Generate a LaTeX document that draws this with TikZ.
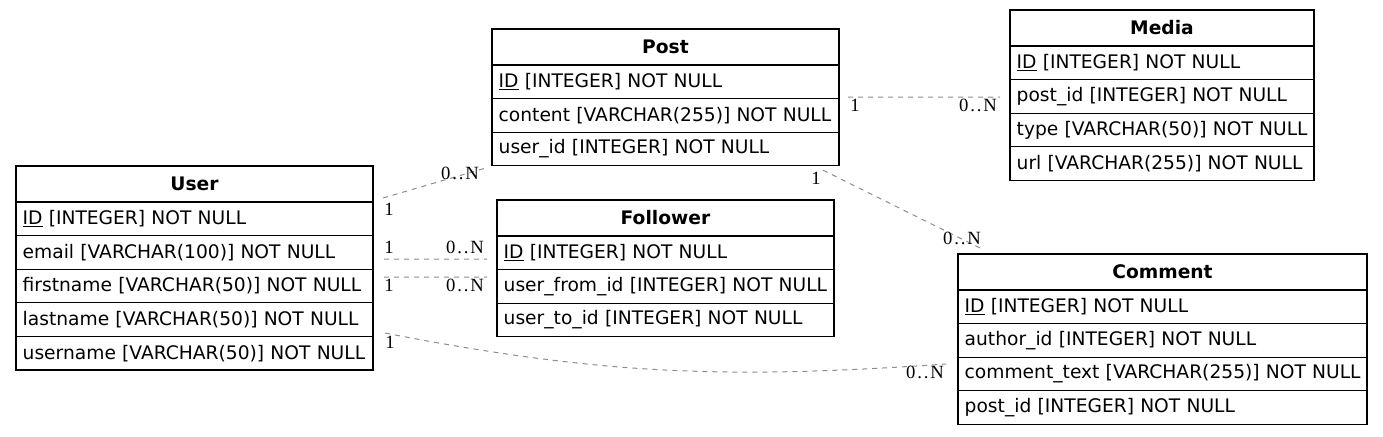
\documentclass[tikz,border=0pt]{standalone}
\usepackage{fontspec}
\setmainfont{DejaVu Sans}
\newfontfamily\etiqfont[LetterSpace=10]{Liberation Serif}
\usetikzlibrary{positioning}
\tikzset{
	tabla/.style={draw, line width=0.8pt, font=\fontsize{14}{15}\selectfont\bfseries,
		text width=#1, align=center, inner xsep=5pt, inner ysep=2pt, outer sep=0pt,
		minimum height=27pt, anchor=north west},
	campo/.style={draw, line width=0.8pt, font=\fontsize{14}{15}\selectfont,
		text width=#1, align=left, inner xsep=5pt, inner ysep=2pt, outer sep=0pt,
		minimum height=25.2pt,
		execute at begin node={\hbox\bgroup}, execute at end node={\egroup}},
	relacion/.style={draw=black!45, line width=0.75pt, dash pattern=on 3.75pt off 3.75pt},
	etiq/.style={font=\fontsize{14}{15}\selectfont\etiqfont, inner sep=0pt}
}

\begin{document}
\begin{tikzpicture}[x=0.75pt, y=-0.75pt]
	\useasboundingbox (0,0) rectangle (1383,436);
	
	% User
	\node[tabla=257.75pt] (user) at (16,166) {User};
	\node[campo=257.75pt, below=0pt of user] (user-id) {\underline{ID} [INTEGER] NOT NULL};
	\node[campo=257.75pt, below=0pt of user-id] (user-email) {email [VARCHAR(100)] NOT NULL};
	\node[campo=257.75pt, below=0pt of user-email] (user-firstname) {firstname [VARCHAR(50)] NOT NULL};
	\node[campo=257.75pt, below=0pt of user-firstname] (user-lastname) {lastname [VARCHAR(50)] NOT NULL};
	\node[campo=257.75pt, below=0pt of user-lastname] (user-username) {username [VARCHAR(50)] NOT NULL};
	
	% Post
	\node[tabla=250.25pt] (post) at (492,29) {Post};
	\node[campo=250.25pt, below=0pt of post] (post-id) {\underline{ID} [INTEGER] NOT NULL};
	\node[campo=250.25pt, below=0pt of post-id] (post-content) {content [VARCHAR(255)] NOT NULL};
	\node[campo=250.25pt, below=0pt of post-content] (post-user) {user\_id [INTEGER] NOT NULL};
	
	% Follower
	\node[tabla=242.75pt] (follower) at (497,200) {Follower};
	\node[campo=242.75pt, below=0pt of follower] (follower-id) {\underline{ID} [INTEGER] NOT NULL};
	\node[campo=242.75pt, below=0pt of follower-id] (follower-from) {user\_from\_id [INTEGER] NOT NULL};
	\node[campo=242.75pt, below=0pt of follower-from] (follower-to) {user\_to\_id [INTEGER] NOT NULL};
	
	% Media
	\node[tabla=218pt] (media) at (1010,10) {Media};
	\node[campo=218pt, below=0pt of media] (media-id) {\underline{ID} [INTEGER] NOT NULL};
	\node[campo=218pt, below=0pt of media-id] (media-post) {post\_id [INTEGER] NOT NULL};
	\node[campo=218pt, below=0pt of media-post] (media-type) {type [VARCHAR(50)] NOT NULL};
	\node[campo=218pt, below=0pt of media-type] (media-url) {url [VARCHAR(255)] NOT NULL};
	
	% Comment
	\node[tabla=296.75pt] (comment) at (958,254) {Comment};
	\node[campo=296.75pt, below=0pt of comment] (comment-id) {\underline{ID} [INTEGER] NOT NULL};
	\node[campo=296.75pt, below=0pt of comment-id] (comment-author) {author\_id [INTEGER] NOT NULL};
	\node[campo=296.75pt, below=0pt of comment-author] (comment-text) {comment\_text [VARCHAR(255)] NOT NULL};
	\node[campo=296.75pt, below=0pt of comment-text] (comment-post) {post\_id [INTEGER] NOT NULL};
	
	% relaciones
	\draw[relacion] ([shift={(10,-4)}]user.south east) -- ([shift={(-7,2.4)}]post-user.south west);
	\node[etiq] at ([shift={(16,7)}]user.south east) {1};
	\node[etiq] at ([shift={(-32,7.4)}]post-user.south west) {0..N};
	
	\draw[relacion] ([shift={(11,6.6)}]user-email.east) -- ([shift={(-10,6.2)}]follower-id.west);
	\node[etiq] at ([shift={(16,-5.4)}]user-email.east) {1};
	\node[etiq] at ([shift={(-32,-5.8)}]follower-id.west) {0..N};
	
	\draw[relacion] ([shift={(11,-9)}]user-firstname.east) -- ([shift={(-10,-9.4)}]follower-from.west);
	\node[etiq] at ([shift={(16,-1)}]user-firstname.east) {1};
	\node[etiq] at ([shift={(-32,-1.4)}]follower-from.west) {0..N};
	
	\draw[relacion] ([shift={(9,-1.6)}]post-id.south east) -- ([shift={(-10,0.6)}]media-post.west);
	\node[etiq] at ([shift={(16,6.4)}]post-id.south east) {1};
	\node[etiq] at ([shift={(-32,8.6)}]media-post.west) {0..N};
	
	\draw[relacion] ([shift={(-16,4.4)}]post-user.south east) -- ([shift={(24,-5)}]comment.north west);
	\node[etiq] at ([shift={(-23,12.4)}]post-user.south east) {1};
	\node[etiq] at ([shift={(4,-16)}]comment.north west) {0..N};
	
	\draw[relacion] ([shift={(12,-3.4)}]user-lastname.south east) to[out=-11, in=184] ([shift={(-12,6.8)}]comment-author.south west);
	\node[etiq] at ([shift={(17,5.6)}]user-lastname.south east) {1};
	\node[etiq] at ([shift={(-33,14.8)}]comment-author.south west) {0..N};
\end{tikzpicture}
\end{document}
